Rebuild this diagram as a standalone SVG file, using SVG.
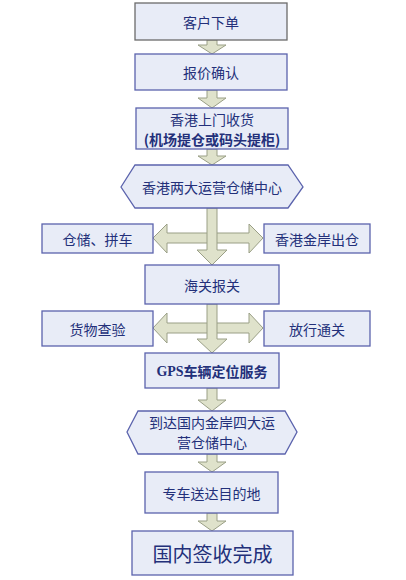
<svg xmlns="http://www.w3.org/2000/svg" width="406" height="580" viewBox="0 0 406 580">
<style>
.box{fill:#e8ecf7;stroke:#5b63ad;stroke-width:1.3}
.arr{fill:#dfe2cb;stroke:#9a9f86;stroke-width:1}
.t{font-family:"Noto Sans CJK SC","Noto Sans",sans-serif;font-size:14px;fill:#23307a;text-anchor:middle;dominant-baseline:central}
.b{font-weight:bold}
</style>
<rect width="406" height="580" fill="#ffffff"/>
<g id="connectors">
<polygon class="arr" points="207,40 217,40 217,45 226,45 212,54 198,45 207,45"/>
<polygon class="arr" points="207,90 217,90 217,98 226,98 212,108 198,98 207,98"/>
<polygon class="arr" points="207,149 217,149 217,156 226,156 212,165 198,156 207,156"/>
<polygon class="arr" points="153,238 167,224 167,233 249,233 249,224 263,238 249,253 249,243 167,243 167,253"/>
<polygon class="arr" points="207,208 217,208 217,250 227,250 212,265 197,250 207,250"/>
<polygon class="arr" points="153,328 167,313 167,323 249,323 249,313 263,328 249,343 249,333 167,333 167,343"/>
<polygon class="arr" points="207,304 217,304 217,339 227,339 212,353 197,339 207,339"/>
<polygon class="arr" points="207,388 217,388 217,400 226,400 212,411 198,400 207,400"/>
<polygon class="arr" points="207,454 217,454 217,462 226,462 212,472 198,462 207,462"/>
<polygon class="arr" points="207,513 217,513 217,521 226,521 212,531 198,521 207,521"/>
</g>
<g id="n1"><rect class="box" x="135" y="3" width="152" height="37" style="stroke:#6b6b6b"/><text class="t" x="211" y="21.5">客户下单</text></g>
<g id="n2"><rect class="box" x="135" y="54" width="152" height="36"/><text class="t" x="211" y="72">报价确认</text></g>
<g id="n3"><rect class="box" x="136" y="108" width="152" height="41"/><text class="t" x="212" y="119">香港上门收货</text><text class="t b" x="212" y="139">(机场提仓或码头提柜)</text></g>
<g id="n4"><polygon class="box" points="121,187 135,165 288,165 303,187 288,208 135,208"/><text class="t" x="212" y="187">香港两大运营仓储中心</text></g>
<g id="n5"><rect class="box" x="42" y="224" width="111" height="29"/><text class="t" x="97.5" y="238.5">仓储、拼车</text></g>
<g id="n6"><rect class="box" x="264" y="224" width="106" height="29"/><text class="t" x="317" y="238.5">香港金岸出仓</text></g>
<g id="n7"><rect class="box" x="145" y="265" width="134" height="39"/><text class="t" x="212" y="284.5">海关报关</text></g>
<g id="n8"><rect class="box" x="42" y="311" width="111" height="35"/><text class="t" x="97.5" y="328.5">货物查验</text></g>
<g id="n9"><rect class="box" x="264" y="311" width="106" height="35"/><text class="t" x="317" y="328.5">放行通关</text></g>
<g id="n10"><rect class="box" x="145" y="353" width="134" height="35"/><text class="t b" x="212" y="370.5"><tspan font-family="Liberation Serif,serif">GPS</tspan>车辆定位服务</text></g>
<g id="n11"><polygon class="box" points="127,432 138,411 285,411 297,432 285,454 138,454"/><text class="t" x="212" y="422">到达国内金岸四大运</text><text class="t" x="212" y="442">营仓储中心</text></g>
<g id="n12"><rect class="box" x="145" y="472" width="133" height="41"/><text class="t" x="211.5" y="493">专车送达目的地</text></g>
<g id="n13"><rect class="box" x="132" y="531" width="161" height="44"/><text class="t" x="212.5" y="553" style="font-size:20px">国内签收完成</text></g>
</svg>
